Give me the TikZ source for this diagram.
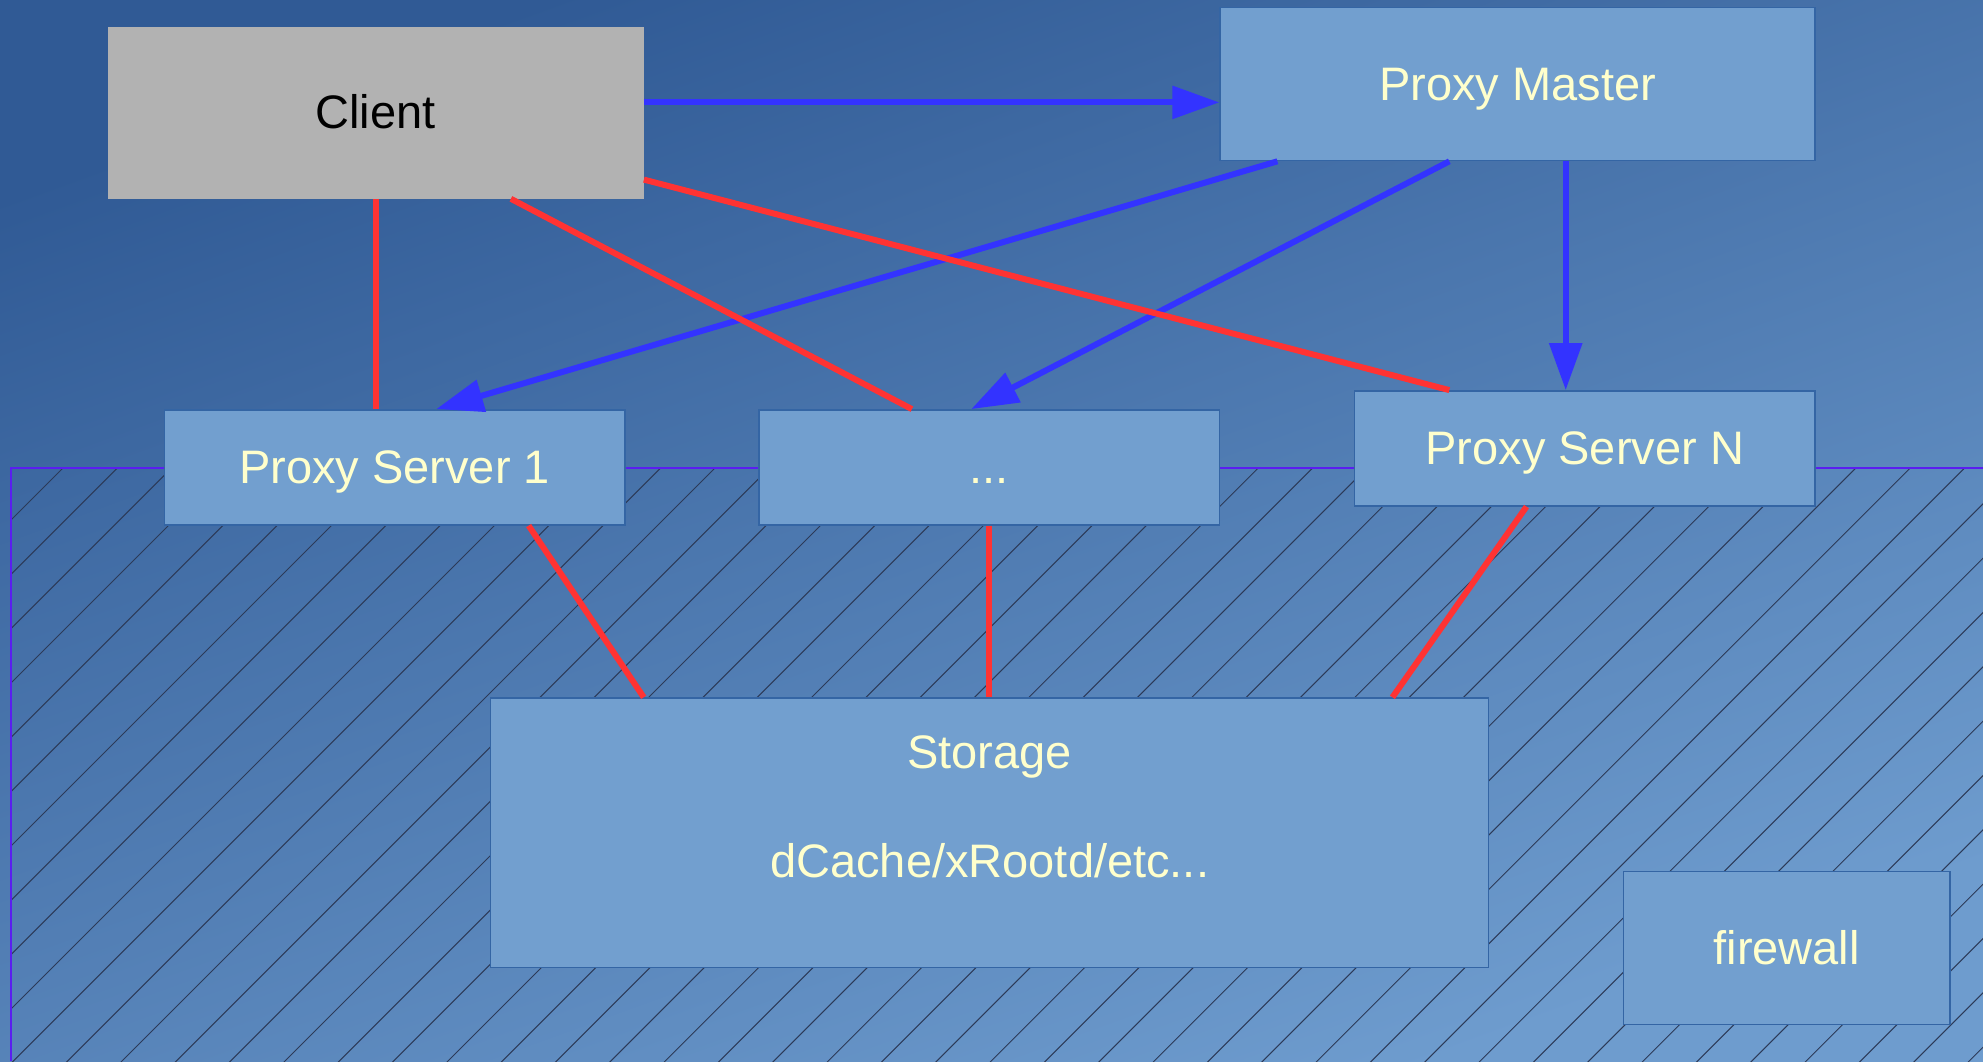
\documentclass[tikz,border=0pt]{standalone}
\usepackage{fontspec}
\setmainfont{Liberation Sans}
\usetikzlibrary{arrows.meta,calc}
\definecolor{bgtop}{HTML}{305A95}
\definecolor{bgbot}{HTML}{6E9CCE}
\definecolor{boxfill}{HTML}{729FCF}
\definecolor{boxline}{HTML}{3465A4}
\definecolor{txtcol}{HTML}{FFFFCC}
\definecolor{clientfill}{HTML}{B2B2B2}
\definecolor{arrowblue}{HTML}{3333FF}
\definecolor{linered}{HTML}{FF3333}
\definecolor{fwline}{HTML}{5A1EF0}
\definecolor{hatchcol}{HTML}{2C3A58}
\tikzset{
  box/.style={draw=boxline, line width=1.4pt, fill=boxfill, text=txtcol, inner sep=0pt,
    text height=42.5pt, text depth=10pt,
    font=\fontsize{47}{54.25}\selectfont},
  clientbox/.style={fill=clientfill, text=black, inner sep=0pt,
    text height=42.5pt, text depth=10pt,
    font=\fontsize{47}{54.25}\selectfont},
  txt/.style={text=txtcol, inner sep=0pt, font=\fontsize{47}{54.25}\selectfont},
  bluearrow/.style={draw=arrowblue, line width=6pt, -{Triangle[length=47pt,width=32pt]}},
  redline/.style={draw=linered, line width=6pt},
}
\begin{document}
\begin{tikzpicture}[x=1pt,y=-1pt]
\useasboundingbox (0,0) rectangle (1983,1061);
% background
\shade[top color=bgtop, bottom color=bgbot, shading angle=20] (0,0) rectangle (1983,1061);
% hatched firewall zone
\begin{scope}
  \clip (10.7,468.3) rectangle (1983,1061);
  \foreach \k in {0,...,46} {
    \pgfmathsetmacro{\c}{531+54.33*\k}
    \draw[hatchcol, line width=1pt] (\c-1100,1100) -- (\c-400,400);
  }
\end{scope}
\draw[fwline, line width=2pt] (10.7,1061) -- (10.7,468.3) -- (1983,468.3);
% nodes
\node[clientbox, minimum width=536.2pt, minimum height=172pt] (client) at (375.6,112.6) {Client};
\node[box, minimum width=595pt, minimum height=153pt] (pm) at (1517.5,84.1) {Proxy Master};
\node[box, minimum width=460.4pt, minimum height=115.1pt] (ps1) at (394.6,467.35) {Proxy Server 1};
\node[box, minimum width=460.4pt, minimum height=115.1pt] (dots) at (989,467.35) {...};
\node[box, minimum width=460.5pt, minimum height=115.1pt] (psn) at (1584.75,448.35) {Proxy Server N};
\node[box, minimum width=997.9pt, minimum height=269.5pt] (storage) at (989.65,832.75) {};
\node[txt, align=center] (storagetext) at ([yshift=26pt]storage.center) {Storage\\[54.25pt]dCache/xRootd/etc...};
\node[box, minimum width=326.7pt, minimum height=152.6pt] (fw) at (1786.65,948) {firewall};
% blue arrows
\draw[bluearrow] ([yshift=10.2pt]client.east) -- ([yshift=-18.3pt]pm.west);
\draw[bluearrow] ([xshift=-240.1pt]pm.south) -- ([xshift=41.7pt]ps1.north);
\draw[bluearrow] ([xshift=-68.2pt]pm.south) -- ([xshift=-17.7pt]dots.north);
\draw[bluearrow] ([xshift=48.2pt]pm.south) -- ([xshift=-19.05pt]psn.north);
% red lines
\draw[redline] (client.south) -- ([xshift=-19pt]ps1.north);
\draw[redline] ([xshift=135.3pt]client.south) -- ([xshift=-77.1pt]dots.north);
\draw[redline] ([yshift=-67pt]client.east) -- ([xshift=-135.45pt]psn.north);
\draw[redline] ([xshift=134pt]ps1.south) -- ([xshift=-345.95pt]storage.north);
\draw[redline] (dots.south) -- (dots.south |- storage.north);
\draw[redline] ([xshift=-58.25pt]psn.south) -- ([xshift=402.75pt]storage.north);
\end{tikzpicture}
\end{document}
